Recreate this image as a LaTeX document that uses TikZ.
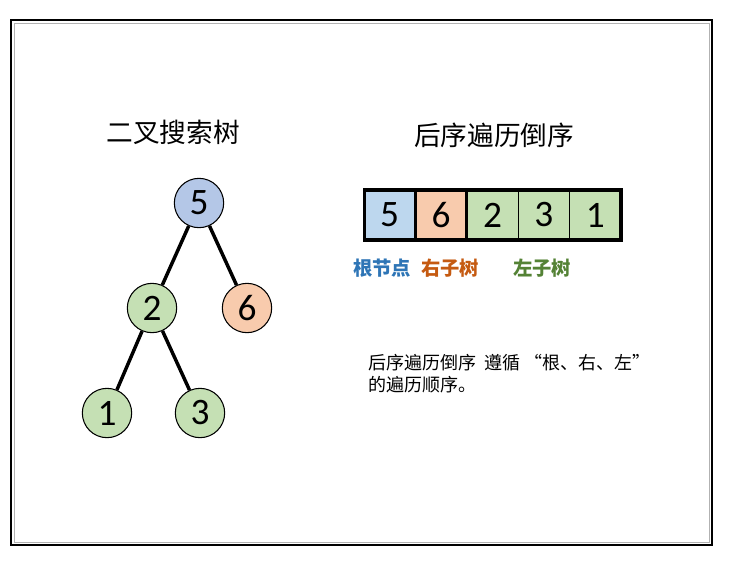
\documentclass[tikz,border=0pt]{standalone}
\usepackage{fontspec}
\setmainfont{Carlito}
\newfontfamily\cjk{Noto Sans CJK SC}
\definecolor{rootblue}{HTML}{B4C7E7}
\definecolor{cellblue}{HTML}{BDD7EE}
\definecolor{rightorange}{HTML}{F8CBAD}
\definecolor{leftgreen}{HTML}{C5E0B4}
\definecolor{labblue}{HTML}{2E75B6}
\definecolor{laborange}{HTML}{C55A11}
\definecolor{labgreen}{HTML}{548235}
\begin{document}
\begin{tikzpicture}[x=0.75pt, y=-0.75pt,
    treenode/.style={circle, draw, line width=0.8pt, minimum size=37pt, inner sep=0pt, font=\fontsize{28}{30}\selectfont},
    cell/.style={rectangle, draw, line width=0.6pt, minimum width=38.5pt, minimum height=37.5pt, inner sep=0pt, outer sep=0pt, font=\fontsize{28}{30}\selectfont},
    title/.style={font=\cjk\fontsize{20}{22}\selectfont},
    part/.style={font=\cjk\bfseries\fontsize{14.5}{16}\selectfont}]
    \useasboundingbox (0,0) rectangle (731,560);
    \draw[line width=1.6pt] (11,20) rectangle (712,545);
    \draw[gray!60, line width=0.6pt] (14,23) rectangle (709,542);
    % tree
    \node[title] (treetitle) at (173,132) {二叉搜索树};
    \node[treenode, fill=rootblue] (n5) at (199,203) {5};
    \node[treenode, fill=leftgreen] (n2) at (152,308) {2};
    \node[treenode, fill=rightorange] (n6) at (247,308) {6};
    \node[treenode, fill=leftgreen] (n1) at (107,413) {1};
    \node[treenode, fill=leftgreen] (n3) at (200,413) {3};
    \foreach \a/\b in {n5/n2, n5/n6, n2/n1, n2/n3}{
        \draw[line width=2.6pt] (\a) -- (\b);
    }
    % reversed postorder
    \node[title] (arrtitle) at (494,135) {后序遍历倒序};
    \foreach \v/\c [count=\i] in {5/cellblue, 6/rightorange, 2/leftgreen, 3/leftgreen, 1/leftgreen}{
        \node[cell, fill=\c] (c\i) at ({364+51.4*(\i-1)+25.7},215) {\v};
    }
    \draw[line width=2.3pt] (c1.north west) rectangle (c5.south east);
    \draw[line width=2.3pt] (c2.north west) rectangle (c2.south east);
    \node[part, text=labblue] (root) at (382,268) {根节点};
    \node[part, text=laborange] (right) at (450,268) {右子树};
    \node[part, text=labgreen] (left) at (542,268) {左子树};
    \node[font=\cjk\fontsize{13.5}{16.5}\selectfont, align=left, anchor=north west, inner sep=0pt] (note) at (368,354)
        {后序遍历倒序\ \ 遵循 “根、右、左”\\的遍历顺序。};
\end{tikzpicture}
\end{document}
